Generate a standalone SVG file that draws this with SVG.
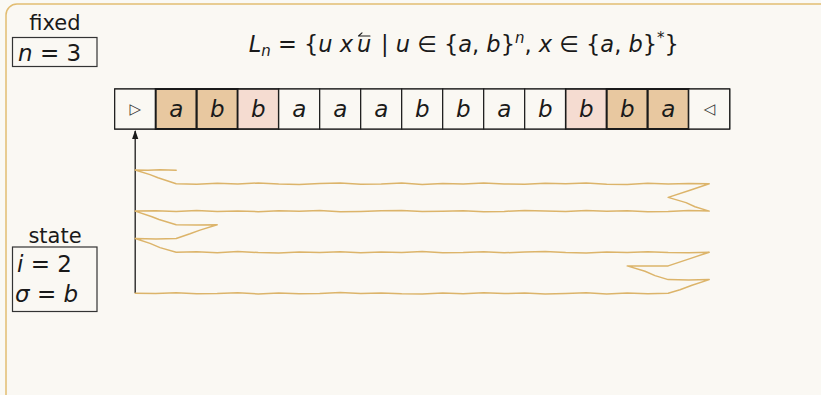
<svg xmlns="http://www.w3.org/2000/svg" width="821" height="395" viewBox="0 0 821 395">
<defs>
<style>
.bg{fill:#faf9f4}
.frame{fill:#faf8f3;stroke:#e2bd72;stroke-width:1.5}
.t{font-family:"DejaVu Sans",sans-serif;fill:#1a1a1a}
.it{font-style:italic}
.cell{fill:#faf8f3;stroke:#1a1a1a;stroke-width:1.2}
.tan{fill:#e8c8a0;stroke:#1a1a1a;stroke-width:2}
.pink{fill:#f5dcd1;stroke:#1a1a1a;stroke-width:1.6}
.sym{font-family:"DejaVu Sans",sans-serif;font-size:15px;fill:#333;text-anchor:middle}
.let{font-family:"DejaVu Sans",sans-serif;font-style:italic;font-size:23px;fill:#1a1a1a;text-anchor:middle}
.box{fill:none;stroke:#333;stroke-width:1.2}
.traj{fill:none;stroke:#dcb46a;stroke-width:1.5;stroke-linejoin:round;stroke-linecap:round}
</style>
<marker id="ah" viewBox="0 0 10 10" refX="9" refY="5" markerWidth="7" markerHeight="7" orient="auto">
<path d="M0,1.5 L10,5 L0,8.5 Z" fill="#1a1a1a"/>
</marker>
</defs>
<rect class="bg" x="0" y="0" width="821" height="395"/>
<rect class="frame" x="6" y="4" width="840" height="420" rx="11"/>

<g id="fixed">
<text class="t" x="55" y="30" font-size="21" text-anchor="middle">fixed</text>
<rect class="box" x="12.5" y="37.5" width="84.5" height="29"/>
<text class="t" x="18" y="61" font-size="23"><tspan class="it">n</tspan> = 3</text>
</g>

<g id="title">
<text class="t" x="353" y="52" font-size="22.5" text-anchor="end"><tspan class="it">L</tspan><tspan class="it" font-size="15" dy="4">n</tspan><tspan dy="-4"> = {</tspan><tspan class="it">u x</tspan></text>
<text class="t it" x="357" y="52" font-size="22.5">u</text>
<path d="M358.5,36 L370,36 M358.5,36 L362,32.8" fill="none" stroke="#1a1a1a" stroke-width="1.1" stroke-linecap="round"/>
<text class="t" x="381" y="52" font-size="22.5">| <tspan class="it">u</tspan> ∈ {<tspan class="it">a</tspan>, <tspan class="it">b</tspan>}<tspan class="it" font-size="15" dy="-9">n</tspan><tspan dy="9">, </tspan><tspan class="it">x</tspan> ∈ {<tspan class="it">a</tspan>, <tspan class="it">b</tspan>}<tspan font-size="15" dy="-9">*</tspan><tspan dy="9">}</tspan></text>
</g>

<g id="tape">
<rect class="cell" x="114.7" y="89" width="615" height="40"/>
<rect class="cell" x="114.7" y="89" width="41" height="40"/>
<rect class="tan" x="155.7" y="89" width="41" height="40"/>
<rect class="tan" x="196.7" y="89" width="41" height="40"/>
<rect class="pink" x="237.7" y="89" width="41" height="40"/>
<rect class="cell" x="278.7" y="89" width="41" height="40"/>
<rect class="cell" x="319.7" y="89" width="41" height="40"/>
<rect class="cell" x="360.7" y="89" width="41" height="40"/>
<rect class="cell" x="401.7" y="89" width="41" height="40"/>
<rect class="cell" x="442.7" y="89" width="41" height="40"/>
<rect class="cell" x="483.7" y="89" width="41" height="40"/>
<rect class="cell" x="524.7" y="89" width="41" height="40"/>
<rect class="pink" x="565.7" y="89" width="41" height="40"/>
<rect class="tan" x="606.7" y="89" width="41" height="40"/>
<rect class="tan" x="647.7" y="89" width="41" height="40"/>
<rect class="cell" x="688.7" y="89" width="41" height="40"/>
<text class="sym" x="135.2" y="114">▷</text>
<text class="let" x="176.2" y="117">a</text>
<text class="let" x="217.2" y="117">b</text>
<text class="let" x="258.2" y="117">b</text>
<text class="let" x="299.2" y="117">a</text>
<text class="let" x="340.2" y="117">a</text>
<text class="let" x="381.2" y="117">a</text>
<text class="let" x="422.2" y="117">b</text>
<text class="let" x="463.2" y="117">b</text>
<text class="let" x="504.2" y="117">a</text>
<text class="let" x="545.2" y="117">b</text>
<text class="let" x="586.2" y="117">b</text>
<text class="let" x="627.2" y="117">b</text>
<text class="let" x="668.2" y="117">a</text>
<text class="sym" x="709.2" y="114">◁</text>
</g>

<g id="state">
<text class="t" x="55" y="243" font-size="21" text-anchor="middle">state</text>
<rect class="box" x="12.5" y="247" width="84.5" height="64.5"/>
<text class="t" x="17" y="272" font-size="23"><tspan class="it">i</tspan> = 2</text>
<text class="t" x="15" y="302" font-size="23"><tspan class="it">σ</tspan> = <tspan class="it">b</tspan></text>
</g>

<g id="connectors">
<line x1="135.2" y1="293" x2="135.2" y2="131" stroke="#1a1a1a" stroke-width="1.3" marker-end="url(#ah)"/>
<polyline class="traj" points="176.2,170.3 160,169.8 148,170.2 135.2,170 150,174.6 158,177.8 176.2,183.7 196.7,184.3 217.2,183.3 237.7,184.0 258.2,183.0 278.7,184.1 299.2,184.5 319.7,183.4 340.2,183.1 360.7,184.2 381.2,183.9 401.7,183.1 422.2,184.4 442.7,183.5 463.2,184.1 483.7,182.9 504.2,184.0 524.7,184.3 545.2,183.3 565.7,183.8 586.2,183.0 606.7,184.2 627.2,184.4 647.7,183.2 668.2,183.9 688.7,183.4 709.2,183.7 690,190.2 668.2,197.4 686,202.6 695,206.8 709.2,211.1 688.7,210.6 668.2,211.5 647.7,211.8 627.2,210.8 606.7,211.3 586.2,210.5 565.7,211.6 545.2,210.9 524.7,210.4 504.2,211.4 483.7,211.7 463.2,210.7 442.7,211.3 422.2,211.6 401.7,210.5 381.2,210.8 360.7,211.5 340.2,211.8 319.7,210.6 299.2,211.2 278.7,210.7 258.2,211.7 237.7,210.9 217.2,211.4 196.7,210.5 176.2,211.5 155.7,210.8 135.2,211.1 152,216.8 159,219.5 176.2,224.8 196.7,225.1 217.2,224.8 200,230.1 190,233.8 176.2,238.5 156,238.9 135.2,238.5 150,243.4 160,247.6 176.2,252.2 196.7,251.8 217.2,252.7 237.7,251.6 258.2,252.5 278.7,252.9 299.2,252.0 319.7,252.6 340.2,251.7 360.7,252.8 381.2,251.9 401.7,252.4 422.2,251.5 442.7,252.7 463.2,252.5 483.7,251.8 504.2,252.8 524.7,252.0 545.2,251.6 565.7,252.6 586.2,252.9 606.7,251.9 627.2,252.4 647.7,251.7 668.2,252.6 688.7,252.8 709.2,252.2 690,258.6 668.2,265.9 648,266.1 627.2,265.9 645,271.3 655,275.6 668.2,279.6 688.7,279.9 709.2,279.6 692,285.3 680,289.8 668.2,293.3 647.7,293.8 627.2,293.0 606.7,293.9 586.2,292.8 565.7,293.5 545.2,294.0 524.7,292.9 504.2,293.6 483.7,292.7 463.2,293.7 442.7,293.1 422.2,293.9 401.7,293.8 381.2,292.9 360.7,293.6 340.2,292.6 319.7,293.5 299.2,293.8 278.7,293.0 258.2,293.9 237.7,292.8 217.2,293.5 196.7,293.7 176.2,292.7 155.7,293.6 135.2,293.3"/>
</g>
</svg>
